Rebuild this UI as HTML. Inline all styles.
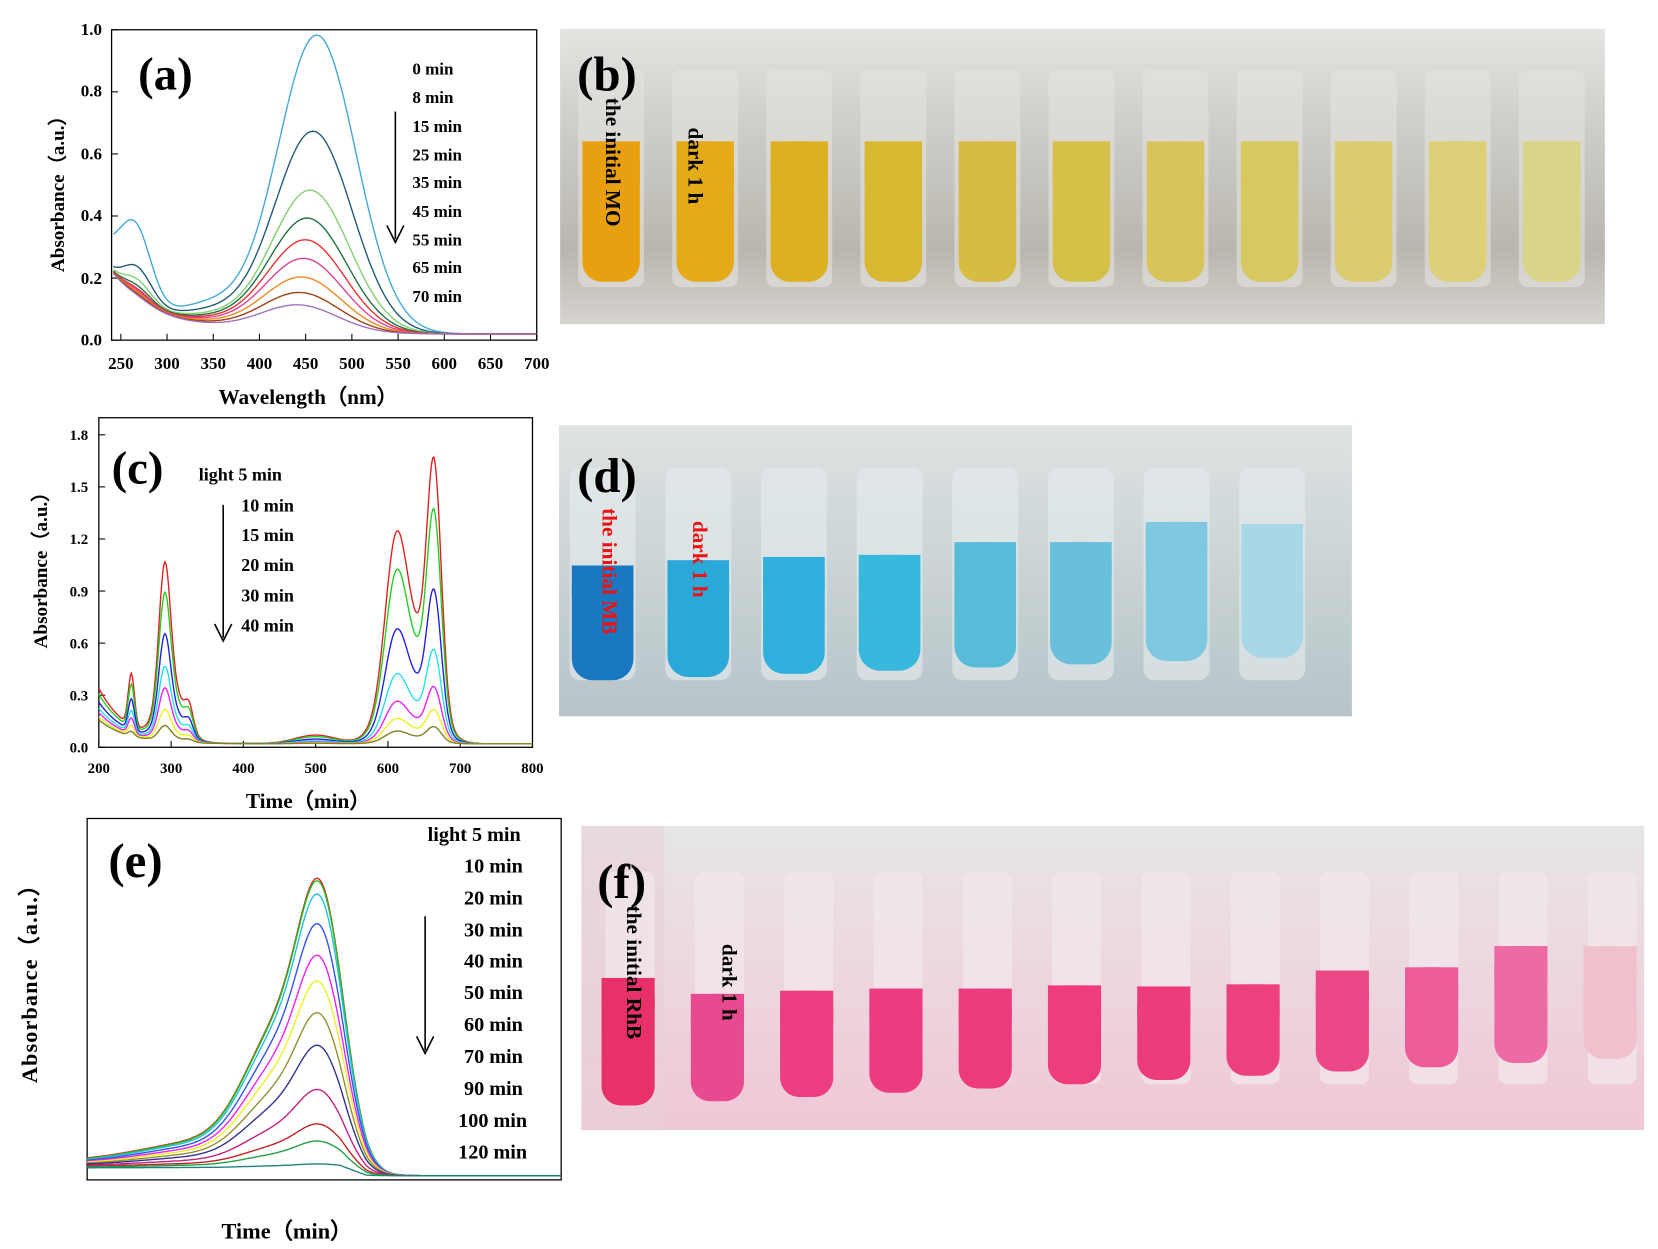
<!DOCTYPE html>
<html><head><meta charset="utf-8"><style>
html,body{margin:0;padding:0;background:#fff;}
svg{display:block;}
text{font-family:"Liberation Serif",serif;font-weight:bold;fill:#000;}
</style></head><body>
<svg id="s" width="1658" height="1249" viewBox="0 0 1560 1175" preserveAspectRatio="none" xmlns="http://www.w3.org/2000/svg">
<defs>
<linearGradient id="bgY" x1="0" y1="0" x2="0" y2="1"><stop offset="0" stop-color="#e4e4e2"/><stop offset="0.3" stop-color="#cfcfcb"/><stop offset="0.75" stop-color="#b9b6ae"/><stop offset="1" stop-color="#d6d4cf"/></linearGradient>
<linearGradient id="bgB" x1="0" y1="0" x2="0" y2="1"><stop offset="0" stop-color="#dfe2e2"/><stop offset="0.5" stop-color="#c9d3d5"/><stop offset="1" stop-color="#b7c4c8"/></linearGradient>
<linearGradient id="bgP" x1="0" y1="0" x2="0" y2="1"><stop offset="0" stop-color="#e6e6e6"/><stop offset="0.4" stop-color="#ecd9e0"/><stop offset="1" stop-color="#f0c7d6"/></linearGradient>
</defs>
<g id="photos"></g>
<g id="plots"></g>
<text x="130" y="84" font-size="44">(a)</text>
<g font-size="16" text-anchor="end">
<text x="96" y="33">1.0</text><text x="96" y="91">0.8</text>
<text x="96" y="150">0.6</text><text x="96" y="208">0.4</text>
<text x="96" y="267">0.2</text><text x="96" y="325">0.0</text>
</g>
<g font-size="16" text-anchor="middle" id="ax_a"></g>
<text x="290" y="380" font-size="20" text-anchor="middle">Wavelength（nm）</text>
<text transform="translate(60,178) rotate(-90)" font-size="18" text-anchor="middle">Absorbance（a.u.）</text>
<g font-size="16"><text x="388" y="70">0 min</text><text x="388" y="97">8 min</text><text x="388" y="124">15 min</text><text x="388" y="151">25 min</text><text x="388" y="177">35 min</text><text x="388" y="204">45 min</text><text x="388" y="231">55 min</text><text x="388" y="257">65 min</text><text x="388" y="284">70 min</text></g>
<line x1="372" y1="105" x2="372" y2="225" stroke="#000" stroke-width="1.5"/><path d="M364,212 L372,228 L380,212" fill="none" stroke="#000" stroke-width="1.5"/>
<text x="543" y="85" font-size="46">(b)</text>
<text transform="translate(570,92) rotate(90)" font-size="20">the initial MO</text>
<text transform="translate(648,120) rotate(90)" font-size="20">dark 1 h</text>
<text x="105" y="455" font-size="44">(c)</text>
<g font-size="14" text-anchor="end"><text x="83" y="414">1.8</text><text x="83" y="463">1.5</text><text x="83" y="512">1.2</text><text x="83" y="561">0.9</text><text x="83" y="610">0.6</text><text x="83" y="659">0.3</text><text x="83" y="708">0.0</text></g>
<g font-size="14" text-anchor="middle"><text x="93" y="727">200</text><text x="161" y="727">300</text><text x="229" y="727">400</text><text x="297" y="727">500</text><text x="365" y="727">600</text><text x="433" y="727">700</text><text x="501" y="727">800</text></g>
<text x="290" y="760" font-size="20" text-anchor="middle">Time（min）</text>
<text transform="translate(44,532) rotate(-90)" font-size="18" text-anchor="middle">Absorbance（a.u.）</text>
<g font-size="17"><text x="187" y="452">light 5 min</text><text x="227" y="481">10 min</text><text x="227" y="509">15 min</text><text x="227" y="537">20 min</text><text x="227" y="566">30 min</text><text x="227" y="594">40 min</text></g>
<line x1="210" y1="475" x2="210" y2="600" stroke="#000" stroke-width="1.5"/><path d="M202,587 L210,603 L218,587" fill="none" stroke="#000" stroke-width="1.5"/>
<text x="543" y="463" font-size="46">(d)</text>
<text transform="translate(567,478) rotate(90)" font-size="20" style="fill:#f01010">the initial MB</text>
<text transform="translate(652,490) rotate(90)" font-size="20" style="fill:#f01010">dark 1 h</text>
<text x="102" y="825" font-size="46">(e)</text>
<text transform="translate(35,920) rotate(-90)" font-size="21" text-anchor="middle" letter-spacing="1">Absorbance（a.u.）</text>
<text x="270" y="1165" font-size="21" text-anchor="middle">Time（min）</text>
<g font-size="19" text-anchor="end"><text x="490" y="791">light 5 min</text><text x="492" y="821">10 min</text><text x="492" y="851">20 min</text><text x="492" y="881">30 min</text><text x="492" y="910">40 min</text><text x="492" y="940">50 min</text><text x="492" y="970">60 min</text><text x="492" y="1000">70 min</text><text x="492" y="1030">90 min</text><text x="496" y="1060">100 min</text><text x="496" y="1090">120 min</text></g>
<line x1="400" y1="862" x2="400" y2="988" stroke="#000" stroke-width="1.5"/><path d="M392,975 L400,991 L408,975" fill="none" stroke="#000" stroke-width="1.5"/>
<text x="562" y="845" font-size="46">(f)</text>
<text transform="translate(590,852) rotate(90)" font-size="20">the initial RhB</text>
<text transform="translate(680,888) rotate(90)" font-size="20">dark 1 h</text>
</svg>
<script>
(function(){
var NS="http://www.w3.org/2000/svg";
function el(p,t,a){var e=document.createElementNS(NS,t);for(var k in a)e.setAttribute(k,a[k]);p.appendChild(e);return e;}
var P=document.getElementById("plots"),PH=document.getElementById("photos");
function g(x,m,s){return Math.exp(-Math.pow((x-m)/s,2));}
function path(f,x0,x1,X,Y,col,w){var d="";for(var x=x0;x<=x1;x+=1.5){var v=f(x);d+=(d?"L":"M")+X(x).toFixed(1)+","+Y(v).toFixed(1);}el(P,"path",{d:d,fill:"none",stroke:col,"stroke-width":w||1.3});}
el(PH,"rect",{x:527,y:27,width:983,height:278,fill:"url(#bgY)"});
var yc=["#e8a010","#e4aa18","#dcb020","#d8b830","#d6bc40","#d6c048","#d8c458","#d8c860","#dccc70","#dcd078","#d8d488"];
for(var i=0;i<11;i++){var x=548+i*88.5;el(PH,"rect",{x:x-4,y:65,width:62,height:205,rx:8,fill:"#e4e2de",opacity:0.6});el(PH,"rect",{x:x,y:133,width:54,height:132,rx:18,fill:yc[i]});el(PH,"rect",{x:x,y:133,width:54,height:40,fill:yc[i]});}
el(PH,"rect",{x:526,y:400,width:746,height:274,fill:"url(#bgB)"});
var bc=["#1a78c0","#2aa8d8","#30b0dc","#38b8dc","#58bcd8","#68c0dc","#80c8e0","#a8d8e8"];
var by=[532,527,524,522,510,510,491,493];
for(var i=0;i<8;i++){var x=538+i*90;el(PH,"rect",{x:x-2,y:440,width:62,height:200,rx:10,fill:"#e6ecee",opacity:0.6});el(PH,"rect",{x:x,y:by[i],width:58,height:640-by[i]-i*3,rx:20,fill:bc[i]});el(PH,"rect",{x:x,y:by[i],width:58,height:30,fill:bc[i]});}
el(PH,"rect",{x:547,y:777,width:1000,height:286,fill:"url(#bgP)"});
el(PH,"rect",{x:547,y:777,width:78,height:286,fill:"#e8d0d8",opacity:0.6});
var pc=["#e8306a","#e84a90","#ec3e80","#ee3a7e","#ec3a7c","#ee3c7c","#ec3c7c","#ec4080","#ec4888","#ee5c98","#ee6aa4","#f0c0cc"];
var py=[920,935,932,930,930,927,928,926,913,910,890,890,880];
for(var i=0;i<12;i++){var x=566+i*84;el(PH,"rect",{x:x+4,y:820,width:46,height:200,rx:8,fill:"#f2e8ec",opacity:0.7});el(PH,"rect",{x:x,y:py[i],width:50,height:1040-py[i]-i*4,rx:18,fill:pc[i]});el(PH,"rect",{x:x,y:py[i],width:50,height:30,fill:pc[i]});}
el(P,"rect",{x:105,y:28,width:400,height:292,fill:"none",stroke:"#000","stroke-width":1.2});
var ax=document.getElementById("ax_a");
for(var w=250;w<=700;w+=50){var xx=105+(w-240)*400/460;el(P,"line",{x1:xx,y1:320,x2:xx,y2:314,stroke:"#000"});var t=el(ax,"text",{x:xx,y:347});t.textContent=w;}
for(var v=0;v<=1.0001;v+=0.2){var yy=320-v*292;el(P,"line",{x1:105,y1:yy,x2:111,y2:yy,stroke:"#000"});}
var Xa=function(w){return 105+(w-240)*400/460},Ya=function(v){return 320-v*292};
var pk=[0.96,0.65,0.46,0.37,0.30,0.24,0.18,0.13,0.09],sh=[0.2,0.1,0.06,0.04,0.03,0.025,0.02,0.015,0.01],ca=["#40a8d8","#205878","#80d070","#207040","#e83030","#e04090","#f08820","#a04010","#a070c0"];
var pm=[462,458,455,452,450,448,446,444,442];
pk.forEach(function(p,i){path(function(w){return p*g(w,pm[i],60)+p*0.07*g(w,350,50)+sh[i]*g(w,268,22)+0.2*Math.exp(-(w-240)/50)+0.02+(i==0?0.08*g(w,245,25):0);},242,700,Xa,Ya,ca[i]);});
el(P,"rect",{x:93,y:393,width:408,height:310,fill:"none",stroke:"#000","stroke-width":1.2});
var Xc=function(w){return 93+(w-200)*408/600},Yc=function(v){return 703-v*163.3};
for(var w=200;w<=800;w+=100)el(P,"line",{x1:Xc(w),y1:703,x2:Xc(w),y2:697,stroke:"#000"});
for(var v=0;v<=1.8;v+=0.3)el(P,"line",{x1:93,y1:Yc(v),x2:99,y2:Yc(v),stroke:"#000"});
var cc=["#e02020","#20d020","#2020e0","#20e0f0","#f020f0","#f0f020","#808020"],fc=[1,0.82,0.54,0.33,0.2,0.12,0.06],f2=[1,0.83,0.6,0.42,0.3,0.18,0.09];
cc.forEach(function(c,i){var a=fc[i],b=f2[i];path(function(w){return b*(0.3*g(w,245,6)+0.75*g(w,291,11)+0.3*g(w,300,25)+0.12*g(w,325,8))+(0.12+0.2*b)*Math.exp(-(w-200)/40)+a*(0.7*g(w,610,20)+1.33*g(w,664,14)+0.65*g(w,630,40)+0.05*g(w,500,40))+0.02;},200,800,Xc,Yc,c,1.3);});
el(P,"rect",{x:82,y:770,width:446,height:340,fill:"none",stroke:"#000","stroke-width":1.2});
var ce=["#e02020","#20c020","#20c0e0","#3050f0","#f020f0","#f0f020","#909030","#303090","#c02080","#c02020","#20a040","#208080","#2020e0"];
var tops=[800,802,815,845,877,903,935,968,1013,1048,1065,1088];
tops.forEach(function(t,i){var h=1092-t;path(function(x){return h*(0.72*g(x,303,30)+0.38*g(x,262,45)+0.06*g(x,190,80))+(14-i*0.6)*(x<345?Math.min(1,(345-x)/25):0);},82,528,function(x){return x},function(v){return 1106-v},ce[i],1.3);});
})();
</script>
</body></html>
